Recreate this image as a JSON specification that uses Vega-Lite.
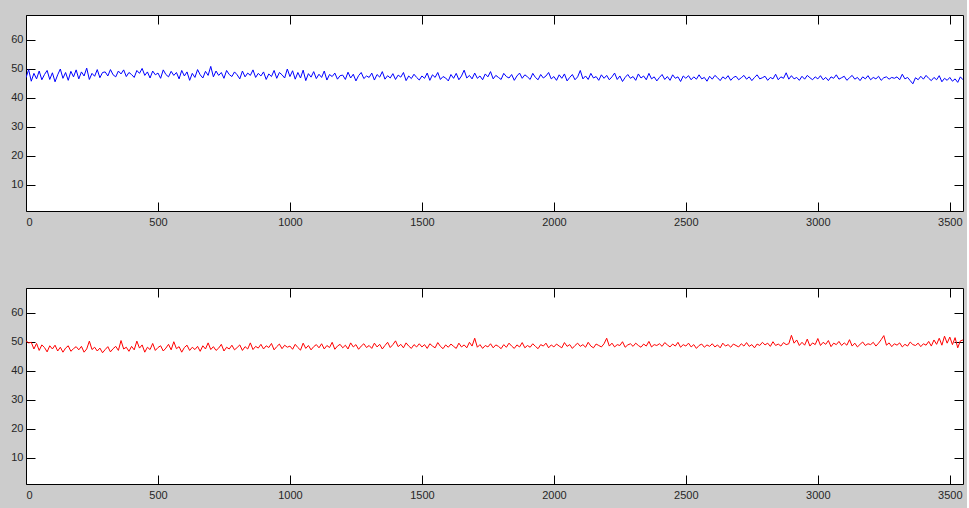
{"$schema":"https://vega.github.io/schema/vega-lite/v6.json","background":"#cccccc","padding":{"left":10,"top":14,"right":3,"bottom":8},"bounds":"flush","spacing":77,"config":{"view":{"fill":"white","stroke":"black","strokeWidth":1},"axis":{"domain":false,"grid":false,"ticks":true,"tickColor":"black","tickSize":-9,"tickWidth":1,"labelFont":"Liberation Sans","labelFontSize":11,"labelColor":"#262626","title":null}},
"datasets":{"d":[
{"x":0,"a":46.9,"b":50.3},{"x":10,"a":49.7,"b":49.6},{"x":20,"a":45.7,"b":49.8},{"x":30,"a":48.4,"b":47.5},{"x":40,"a":46.5,"b":49.4},{"x":50,"a":49.2,"b":47.0},{"x":60,"a":46.2,"b":48.9},{"x":70,"a":48.0,"b":48.0},{"x":80,"a":49.4,"b":46.5},{"x":90,"a":46.3,"b":48.6},
{"x":100,"a":48.6,"b":47.5},{"x":110,"a":45.5,"b":48.8},{"x":120,"a":47.9,"b":46.8},{"x":130,"a":49.9,"b":48.1},{"x":140,"a":46.7,"b":46.4},{"x":150,"a":48.7,"b":47.8},{"x":160,"a":46.0,"b":48.6},{"x":170,"a":49.1,"b":46.7},{"x":180,"a":47.2,"b":47.6},{"x":190,"a":49.6,"b":48.3},
{"x":200,"a":46.5,"b":47.2},{"x":210,"a":48.9,"b":48.4},{"x":220,"a":47.5,"b":46.4},{"x":230,"a":50.2,"b":47.5},{"x":240,"a":46.3,"b":50.2},{"x":250,"a":48.4,"b":47.3},{"x":260,"a":47.4,"b":48.1},{"x":270,"a":49.7,"b":46.8},{"x":280,"a":46.9,"b":47.8},{"x":290,"a":48.7,"b":46.2},
{"x":300,"a":48.9,"b":47.3},{"x":310,"a":47.5,"b":48.3},{"x":320,"a":49.7,"b":46.5},{"x":330,"a":47.9,"b":47.6},{"x":340,"a":47.2,"b":48.4},{"x":350,"a":49.2,"b":47.0},{"x":360,"a":48.2,"b":50.4},{"x":370,"a":49.6,"b":47.5},{"x":380,"a":47.3,"b":48.1},{"x":390,"a":48.7,"b":46.7},
{"x":400,"a":48.0,"b":48.4},{"x":410,"a":47.0,"b":47.2},{"x":420,"a":49.4,"b":50.2},{"x":430,"a":48.4,"b":47.8},{"x":440,"a":50.1,"b":48.9},{"x":450,"a":47.7,"b":46.4},{"x":460,"a":48.9,"b":48.1},{"x":470,"a":46.8,"b":47.3},{"x":480,"a":49.2,"b":49.4},{"x":490,"a":47.9,"b":47.0},
{"x":500,"a":48.5,"b":48.0},{"x":510,"a":46.7,"b":48.6},{"x":520,"a":49.6,"b":46.8},{"x":530,"a":48.0,"b":47.8},{"x":540,"a":47.2,"b":49.1},{"x":550,"a":49.1,"b":47.2},{"x":560,"a":47.7,"b":50.0},{"x":570,"a":48.7,"b":47.6},{"x":580,"a":46.5,"b":48.3},{"x":590,"a":49.4,"b":46.4},
{"x":600,"a":47.5,"b":48.0},{"x":610,"a":48.9,"b":48.8},{"x":620,"a":46.0,"b":47.0},{"x":630,"a":48.4,"b":48.1},{"x":640,"a":47.0,"b":47.3},{"x":650,"a":49.7,"b":48.4},{"x":660,"a":47.9,"b":46.7},{"x":670,"a":46.8,"b":48.6},{"x":680,"a":49.1,"b":47.5},{"x":690,"a":47.7,"b":49.6},
{"x":700,"a":50.8,"b":47.3},{"x":710,"a":47.2,"b":48.3},{"x":720,"a":49.2,"b":47.0},{"x":730,"a":47.7,"b":47.8},{"x":740,"a":48.7,"b":49.1},{"x":750,"a":46.7,"b":46.8},{"x":760,"a":49.4,"b":48.1},{"x":770,"a":48.0,"b":47.5},{"x":780,"a":47.3,"b":48.8},{"x":790,"a":48.9,"b":47.2},
{"x":800,"a":47.9,"b":48.0},{"x":810,"a":46.5,"b":48.9},{"x":820,"a":49.2,"b":47.0},{"x":830,"a":47.2,"b":48.3},{"x":840,"a":48.5,"b":47.5},{"x":850,"a":47.7,"b":49.6},{"x":860,"a":49.6,"b":47.3},{"x":870,"a":47.0,"b":48.4},{"x":880,"a":48.4,"b":47.8},{"x":890,"a":47.5,"b":49.1},
{"x":900,"a":48.9,"b":47.5},{"x":910,"a":46.3,"b":48.6},{"x":920,"a":48.2,"b":48.0},{"x":930,"a":47.3,"b":49.4},{"x":940,"a":49.4,"b":47.2},{"x":950,"a":46.7,"b":48.3},{"x":960,"a":48.7,"b":49.2},{"x":970,"a":47.9,"b":47.6},{"x":980,"a":46.8,"b":48.8},{"x":990,"a":49.9,"b":48.1},
{"x":1000,"a":47.3,"b":48.5},{"x":1010,"a":49.3,"b":47.4},{"x":1020,"a":46.4,"b":49.1},{"x":1030,"a":48.7,"b":48.0},{"x":1040,"a":46.8,"b":47.1},{"x":1050,"a":49.5,"b":49.5},{"x":1060,"a":45.9,"b":47.7},{"x":1070,"a":48.3,"b":48.7},{"x":1080,"a":47.1,"b":47.2},{"x":1090,"a":49.0,"b":48.3},
{"x":1100,"a":46.6,"b":49.0},{"x":1110,"a":48.1,"b":47.9},{"x":1120,"a":47.0,"b":49.3},{"x":1130,"a":49.2,"b":47.5},{"x":1140,"a":46.1,"b":48.7},{"x":1150,"a":48.0,"b":48.0},{"x":1160,"a":47.3,"b":49.8},{"x":1170,"a":48.5,"b":47.4},{"x":1180,"a":46.4,"b":48.5},{"x":1190,"a":47.6,"b":49.1},
{"x":1200,"a":47.8,"b":47.9},{"x":1210,"a":46.3,"b":48.8},{"x":1220,"a":48.8,"b":47.5},{"x":1230,"a":46.8,"b":49.6},{"x":1240,"a":48.1,"b":48.2},{"x":1250,"a":45.8,"b":49.0},{"x":1260,"a":47.6,"b":47.4},{"x":1270,"a":48.7,"b":48.5},{"x":1280,"a":46.6,"b":49.3},{"x":1290,"a":47.5,"b":48.0},
{"x":1300,"a":47.0,"b":48.7},{"x":1310,"a":48.5,"b":47.7},{"x":1320,"a":46.1,"b":49.5},{"x":1330,"a":48.0,"b":48.2},{"x":1340,"a":47.1,"b":49.1},{"x":1350,"a":49.0,"b":47.5},{"x":1360,"a":46.4,"b":48.7},{"x":1370,"a":47.6,"b":49.8},{"x":1380,"a":46.8,"b":48.0},{"x":1390,"a":48.3,"b":49.0},
{"x":1400,"a":46.3,"b":50.3},{"x":1410,"a":47.8,"b":48.3},{"x":1420,"a":47.1,"b":49.1},{"x":1430,"a":48.7,"b":47.9},{"x":1440,"a":45.9,"b":49.6},{"x":1450,"a":47.5,"b":48.5},{"x":1460,"a":46.6,"b":47.7},{"x":1470,"a":48.1,"b":49.0},{"x":1480,"a":47.0,"b":48.2},{"x":1490,"a":46.1,"b":49.3},
{"x":1500,"a":47.5,"b":48.2},{"x":1510,"a":46.7,"b":49.0},{"x":1520,"a":48.5,"b":47.7},{"x":1530,"a":46.0,"b":49.3},{"x":1540,"a":47.9,"b":48.5},{"x":1550,"a":47.0,"b":47.9},{"x":1560,"a":48.7,"b":49.7},{"x":1570,"a":46.3,"b":48.4},{"x":1580,"a":47.3,"b":47.6},{"x":1590,"a":46.8,"b":48.9},
{"x":1600,"a":45.8,"b":48.1},{"x":1610,"a":48.0,"b":49.2},{"x":1620,"a":46.7,"b":48.4},{"x":1630,"a":48.4,"b":47.7},{"x":1640,"a":46.2,"b":49.5},{"x":1650,"a":47.5,"b":48.2},{"x":1660,"a":49.5,"b":48.9},{"x":1670,"a":46.8,"b":47.9},{"x":1680,"a":47.7,"b":49.8},{"x":1690,"a":46.5,"b":48.5},
{"x":1700,"a":48.5,"b":51.2},{"x":1710,"a":46.7,"b":48.1},{"x":1720,"a":47.5,"b":49.0},{"x":1730,"a":46.2,"b":47.7},{"x":1740,"a":48.2,"b":48.7},{"x":1750,"a":47.2,"b":48.2},{"x":1760,"a":49.0,"b":49.3},{"x":1770,"a":46.5,"b":47.9},{"x":1780,"a":47.7,"b":48.9},{"x":1790,"a":47.0,"b":48.4},
{"x":1800,"a":46.3,"b":47.6},{"x":1810,"a":48.4,"b":49.0},{"x":1820,"a":47.3,"b":48.1},{"x":1830,"a":46.8,"b":49.5},{"x":1840,"a":48.0,"b":48.5},{"x":1850,"a":46.0,"b":47.7},{"x":1860,"a":47.5,"b":48.9},{"x":1870,"a":48.5,"b":48.2},{"x":1880,"a":46.7,"b":49.7},{"x":1890,"a":47.9,"b":47.9},
{"x":1900,"a":47.2,"b":48.7},{"x":1910,"a":46.3,"b":48.1},{"x":1920,"a":48.4,"b":49.3},{"x":1930,"a":47.0,"b":48.4},{"x":1940,"a":46.2,"b":47.6},{"x":1950,"a":48.0,"b":49.0},{"x":1960,"a":46.8,"b":48.5},{"x":1970,"a":47.5,"b":49.5},{"x":1980,"a":48.7,"b":47.9},{"x":1990,"a":46.5,"b":48.9},
{"x":2000,"a":47.3,"b":48.2},{"x":2010,"a":46.0,"b":49.2},{"x":2020,"a":47.9,"b":48.5},{"x":2030,"a":46.7,"b":47.9},{"x":2040,"a":48.2,"b":49.7},{"x":2050,"a":45.8,"b":48.4},{"x":2060,"a":47.0,"b":49.0},{"x":2070,"a":48.0,"b":47.7},{"x":2080,"a":46.2,"b":48.7},{"x":2090,"a":47.2,"b":49.5},
{"x":2100,"a":49.4,"b":48.4},{"x":2110,"a":46.5,"b":49.0},{"x":2120,"a":47.5,"b":48.1},{"x":2130,"a":46.3,"b":49.8},{"x":2140,"a":48.4,"b":48.5},{"x":2150,"a":46.8,"b":47.9},{"x":2160,"a":47.3,"b":49.2},{"x":2170,"a":46.0,"b":48.7},{"x":2180,"a":47.9,"b":48.2},{"x":2190,"a":46.7,"b":49.3},
{"x":2200,"a":47.7,"b":51.2},{"x":2210,"a":46.2,"b":48.5},{"x":2220,"a":47.2,"b":49.5},{"x":2230,"a":48.5,"b":48.2},{"x":2240,"a":46.3,"b":49.0},{"x":2250,"a":47.5,"b":48.7},{"x":2260,"a":45.6,"b":50.0},{"x":2270,"a":47.0,"b":48.1},{"x":2280,"a":48.0,"b":48.9},{"x":2290,"a":46.7,"b":49.3},
{"x":2300,"a":47.3,"b":48.4},{"x":2310,"a":46.0,"b":49.5},{"x":2320,"a":48.2,"b":48.7},{"x":2330,"a":46.8,"b":48.1},{"x":2340,"a":47.5,"b":49.2},{"x":2350,"a":46.2,"b":48.5},{"x":2360,"a":48.4,"b":50.1},{"x":2370,"a":46.5,"b":48.2},{"x":2380,"a":47.2,"b":49.0},{"x":2390,"a":45.8,"b":48.7},
{"x":2400,"a":47.0,"b":49.3},{"x":2410,"a":48.0,"b":48.4},{"x":2420,"a":46.3,"b":49.7},{"x":2430,"a":47.3,"b":48.9},{"x":2440,"a":46.0,"b":48.2},{"x":2450,"a":47.9,"b":49.2},{"x":2460,"a":46.7,"b":48.5},{"x":2470,"a":47.2,"b":49.8},{"x":2480,"a":45.6,"b":48.1},{"x":2490,"a":47.5,"b":49.0},
{"x":2500,"a":46.7,"b":48.5},{"x":2510,"a":47.6,"b":49.5},{"x":2520,"a":46.2,"b":48.2},{"x":2530,"a":47.2,"b":49.0},{"x":2540,"a":46.4,"b":47.7},{"x":2550,"a":47.9,"b":48.7},{"x":2560,"a":46.5,"b":49.2},{"x":2570,"a":47.0,"b":48.1},{"x":2580,"a":45.7,"b":48.9},{"x":2590,"a":47.4,"b":48.4},
{"x":2600,"a":46.4,"b":49.3},{"x":2610,"a":47.7,"b":48.2},{"x":2620,"a":46.9,"b":48.9},{"x":2630,"a":45.9,"b":47.9},{"x":2640,"a":47.2,"b":49.5},{"x":2650,"a":46.5,"b":48.5},{"x":2660,"a":47.6,"b":49.0},{"x":2670,"a":46.0,"b":48.1},{"x":2680,"a":47.0,"b":49.2},{"x":2690,"a":47.4,"b":48.7},
{"x":2700,"a":46.2,"b":48.2},{"x":2710,"a":46.9,"b":49.3},{"x":2720,"a":47.7,"b":48.5},{"x":2730,"a":46.4,"b":49.7},{"x":2740,"a":47.2,"b":48.4},{"x":2750,"a":45.9,"b":49.0},{"x":2760,"a":47.0,"b":47.9},{"x":2770,"a":47.9,"b":49.2},{"x":2780,"a":46.5,"b":48.7},{"x":2790,"a":46.9,"b":49.8},
{"x":2800,"a":47.4,"b":48.9},{"x":2810,"a":46.0,"b":49.5},{"x":2820,"a":47.0,"b":48.4},{"x":2830,"a":46.5,"b":50.0},{"x":2840,"a":48.1,"b":48.7},{"x":2850,"a":46.2,"b":49.2},{"x":2860,"a":47.2,"b":48.5},{"x":2870,"a":46.7,"b":49.7},{"x":2880,"a":48.6,"b":49.0},{"x":2890,"a":46.4,"b":49.3},
{"x":2900,"a":47.6,"b":52.2},{"x":2910,"a":46.5,"b":49.5},{"x":2920,"a":47.0,"b":50.6},{"x":2930,"a":46.0,"b":48.7},{"x":2940,"a":47.4,"b":49.8},{"x":2950,"a":46.4,"b":48.8},{"x":2960,"a":47.7,"b":50.9},{"x":2970,"a":46.9,"b":48.5},{"x":2980,"a":46.2,"b":49.6},{"x":2990,"a":47.2,"b":49.0},
{"x":3000,"a":46.5,"b":51.1},{"x":3010,"a":47.6,"b":48.7},{"x":3020,"a":46.2,"b":49.8},{"x":3030,"a":47.0,"b":49.1},{"x":3040,"a":45.9,"b":50.4},{"x":3050,"a":47.2,"b":48.3},{"x":3060,"a":46.7,"b":49.5},{"x":3070,"a":47.9,"b":49.0},{"x":3080,"a":46.4,"b":50.1},{"x":3090,"a":46.9,"b":48.7},
{"x":3100,"a":47.4,"b":49.6},{"x":3110,"a":46.0,"b":48.8},{"x":3120,"a":46.9,"b":50.7},{"x":3130,"a":47.7,"b":48.5},{"x":3140,"a":46.4,"b":49.5},{"x":3150,"a":47.0,"b":48.2},{"x":3160,"a":45.9,"b":49.1},{"x":3170,"a":47.2,"b":49.9},{"x":3180,"a":46.5,"b":48.7},{"x":3190,"a":47.6,"b":49.3},
{"x":3200,"a":46.2,"b":49.0},{"x":3210,"a":47.0,"b":49.8},{"x":3220,"a":46.5,"b":48.5},{"x":3230,"a":47.4,"b":49.5},{"x":3240,"a":46.0,"b":50.7},{"x":3250,"a":46.9,"b":52.1},{"x":3260,"a":47.2,"b":48.8},{"x":3270,"a":46.4,"b":49.6},{"x":3280,"a":47.0,"b":48.3},{"x":3290,"a":46.7,"b":49.3},
{"x":3300,"a":47.2,"b":48.8},{"x":3310,"a":46.2,"b":49.6},{"x":3320,"a":48.1,"b":48.2},{"x":3330,"a":46.5,"b":49.1},{"x":3340,"a":47.0,"b":48.5},{"x":3350,"a":45.9,"b":49.9},{"x":3360,"a":44.8,"b":49.0},{"x":3370,"a":46.9,"b":48.7},{"x":3380,"a":46.2,"b":49.5},{"x":3390,"a":47.4,"b":48.3},
{"x":3400,"a":46.4,"b":49.3},{"x":3410,"a":47.7,"b":48.8},{"x":3420,"a":46.7,"b":50.1},{"x":3430,"a":45.9,"b":48.5},{"x":3440,"a":47.0,"b":50.6},{"x":3450,"a":46.2,"b":49.1},{"x":3460,"a":47.6,"b":51.2},{"x":3470,"a":45.5,"b":48.8},{"x":3480,"a":46.7,"b":51.9},{"x":3490,"a":46.0,"b":49.5},
{"x":3500,"a":47.0,"b":51.6},{"x":3510,"a":45.7,"b":49.0},{"x":3520,"a":46.5,"b":51.4},{"x":3530,"a":45.3,"b":47.9},{"x":3540,"a":47.2,"b":50.3},{"x":3550,"a":46.2,"b":50.6}
]},
"vconcat":[
{"width":937,"height":196,"data":{"name":"d"},"layer":[
{"mark":{"type":"line","color":"#0000ff","strokeWidth":1,"clip":true},"encoding":{"x":{"field":"x","type":"quantitative","scale":{"domain":[0,3550],"nice":false,"zero":false},"axis":{"orient":"bottom","format":"d","labelPadding":14,"values":[0,500,1000,1500,2000,2500,3000,3500]}},"y":{"field":"a","type":"quantitative","scale":{"domain":[1,68.5],"nice":false,"zero":false},"axis":{"orient":"left","format":"d","labelPadding":12,"values":[10,20,30,40,50,60]}}}},
{"mark":{"type":"line","color":"#0000ff","strokeWidth":1,"opacity":0,"clip":true},"encoding":{"x":{"field":"x","type":"quantitative","scale":{"domain":[0,3550],"nice":false,"zero":false},"axis":{"orient":"top","labels":false,"values":[0,500,1000,1500,2000,2500,3000,3500]}},"y":{"field":"a","type":"quantitative","scale":{"domain":[1,68.5],"nice":false,"zero":false},"axis":{"orient":"right","labels":false,"values":[10,20,30,40,50,60]}}}}
],"resolve":{"axis":{"x":"independent","y":"independent"}}},
{"width":937,"height":196,"data":{"name":"d"},"layer":[
{"mark":{"type":"line","color":"#ff0000","strokeWidth":1,"clip":true},"encoding":{"x":{"field":"x","type":"quantitative","scale":{"domain":[0,3550],"nice":false,"zero":false},"axis":{"orient":"bottom","format":"d","labelPadding":14,"values":[0,500,1000,1500,2000,2500,3000,3500]}},"y":{"field":"b","type":"quantitative","scale":{"domain":[1,68.5],"nice":false,"zero":false},"axis":{"orient":"left","format":"d","labelPadding":12,"values":[10,20,30,40,50,60]}}}},
{"mark":{"type":"line","color":"#ff0000","strokeWidth":1,"opacity":0,"clip":true},"encoding":{"x":{"field":"x","type":"quantitative","scale":{"domain":[0,3550],"nice":false,"zero":false},"axis":{"orient":"top","labels":false,"values":[0,500,1000,1500,2000,2500,3000,3500]}},"y":{"field":"b","type":"quantitative","scale":{"domain":[1,68.5],"nice":false,"zero":false},"axis":{"orient":"right","labels":false,"values":[10,20,30,40,50,60]}}}}
],"resolve":{"axis":{"x":"independent","y":"independent"}}}
]}
